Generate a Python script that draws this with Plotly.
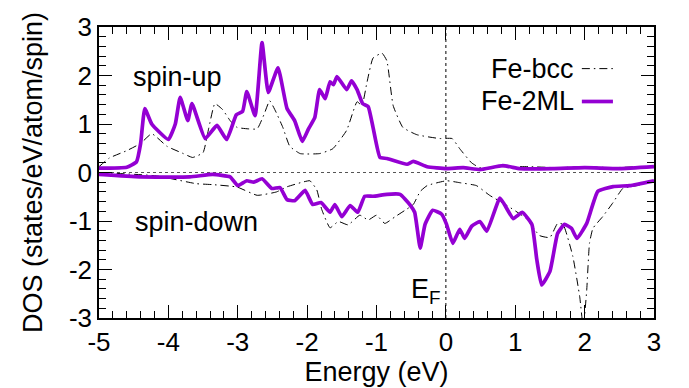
import plotly.graph_objects as go

# ---- data ----
bcc_up_x = [-5.0, -4.85, -4.6, -4.4, -4.24, -4.02, -3.8, -3.65, -3.5, -3.42, -3.33, -3.22, -3.11, -3.01,
            -2.85, -2.72, -2.62, -2.54, -2.45, -2.35, -2.25, -2.1, -1.82, -1.63, -1.43, -1.28, -1.21,
            -1.14, -1.05, -0.92, -0.85, -0.76, -0.62, -0.42, -0.09, 0.09, 0.2, 0.37, 0.49, 0.8, 1.2,
            1.6, 2.0, 2.4, 2.8, 3.0]
bcc_up_y = [0.12, 0.3, 0.45, 0.6, 0.8, 0.54, 0.4, 0.31, 0.41, 0.9, 1.42, 1.3, 1.07, 0.93,
            0.9, 0.9, 1.2, 1.48, 1.25, 0.93, 0.54, 0.39, 0.39, 0.49, 0.87, 1.46, 1.38,
            1.84, 2.36, 2.46, 2.3, 1.38, 0.93, 0.78, 0.7, 0.7, 0.49, 0.2, 0.1, 0.12, 0.12,
            0.1, 0.12, 0.1, 0.12, 0.12]

ml_up_x = [-5.0, -4.6, -4.46, -4.4, -4.34, -4.24, -4.0, -3.9, -3.83, -3.72, -3.66, -3.47, -3.3, -3.16,
           -3.02, -2.93, -2.87, -2.75, -2.65, -2.56, -2.42, -2.29, -2.18, -2.07, -1.98, -1.89, -1.82,
           -1.74, -1.67, -1.62, -1.57, -1.43, -1.36, -1.28, -1.2, -1.12, -1.05, -0.95, -0.85, -0.56,
           -0.47, -0.27, 0.01, 0.25, 0.49, 0.82, 1.07, 1.54, 2.0, 2.5, 3.0]
ml_up_y = [0.09, 0.11, 0.22, 0.6, 1.32, 1.0, 0.68, 1.0, 1.55, 1.07, 1.42, 0.7, 0.97, 0.68,
           1.19, 1.26, 1.67, 1.17, 2.68, 1.65, 2.16, 1.32, 1.07, 0.64, 0.9, 1.13, 1.71,
           1.52, 1.87, 1.81, 1.98, 1.71, 1.89, 1.71, 1.42, 1.36, 0.93, 0.31, 0.29, 0.17,
           0.23, 0.12, 0.08, 0.1, 0.06, 0.14, 0.08, 0.08, 0.1, 0.08, 0.12]

bcc_dn_x = [-5.0, -4.17, -3.6, -3.36, -3.01, -2.72, -2.44, -2.3, -2.07, -1.96, -1.86, -1.79, -1.67,
            -1.55, -1.41, -1.24, -1.12, -1.0, -0.88, -0.73, -0.59, -0.47, -0.37, -0.27, 0.01, 0.2,
            0.44, 0.63, 0.88, 1.16, 1.35, 1.5, 1.61, 1.69, 1.83, 1.93, 1.98, 2.03, 2.07, 2.12, 2.26,
            2.41, 2.55, 2.75, 3.0]
bcc_dn_y = [0.0, -0.07, -0.23, -0.25, -0.3, -0.47, -0.4, -0.3, -0.2, -0.17, -0.36, -0.76, -1.14,
            -1.01, -1.08, -0.88, -0.98, -0.88, -1.05, -0.91, -0.78, -0.66, -0.39, -0.27, -0.17, -0.21,
            -0.27, -0.47, -0.68, -0.95, -1.3, -1.34, -1.05, -1.07, -1.73, -2.57, -3.2, -2.43, -1.46,
            -1.15, -0.91, -0.62, -0.33, -0.27, -0.17]

ml_dn_x = [-5.0, -4.41, -3.69, -3.36, -3.11, -3.0, -2.87, -2.77, -2.65, -2.51, -2.39, -2.29, -2.18,
           -2.03, -1.92, -1.8, -1.67, -1.6, -1.5, -1.38, -1.27, -1.17, -1.05, -0.85, -0.66, -0.52,
           -0.45, -0.37, -0.3, -0.19, -0.06, 0.01, 0.1, 0.2, 0.27, 0.37, 0.49, 0.59, 0.78, 0.97,
           1.1, 1.24, 1.31, 1.38, 1.5, 1.61, 1.71, 1.81, 1.89, 2.03, 2.19, 2.41, 2.65, 3.0]
ml_dn_y = [-0.04, -0.09, -0.09, -0.04, -0.09, -0.27, -0.17, -0.2, -0.13, -0.33, -0.31, -0.56, -0.58,
           -0.37, -0.66, -0.62, -0.82, -0.66, -0.91, -0.68, -0.82, -0.49, -0.49, -0.45, -0.45, -0.66,
           -0.82, -1.56, -1.07, -0.78, -0.86, -1.07, -1.46, -1.17, -1.36, -1.11, -1.01, -1.21, -0.53,
           -0.95, -0.82, -1.07, -1.79, -2.32, -2.04, -1.26, -1.07, -1.15, -1.36, -1.05, -0.39, -0.29,
           -0.27, -0.17]

x_ticks = [-5, -4, -3, -2, -1, 0, 1, 2, 3]
y_ticks = [-3, -2, -1, 0, 1, 2, 3]

PURPLE = "#9400D3"
FONT = "Liberation Sans, Arial, Helvetica, sans-serif"
BCC_DASH = "8px,4px,1.5px,4px"
TXT = 27
TICK = 26

fig = go.Figure()
for xs, ys in [(bcc_up_x, bcc_up_y), (bcc_dn_x, bcc_dn_y)]:
    fig.add_trace(go.Scatter(x=xs, y=ys, mode="lines", name="Fe-bcc", showlegend=False,
                             line=dict(color="black", width=1, dash=BCC_DASH,
                                       shape="spline", smoothing=0.4)))
for xs, ys in [(ml_up_x, ml_up_y), (ml_dn_x, ml_dn_y)]:
    fig.add_trace(go.Scatter(x=xs, y=ys, mode="lines", name="Fe-2ML", showlegend=False,
                             line=dict(color=PURPLE, width=3.7, shape="spline", smoothing=0.4)))

# reference lines (zero DOS and Fermi level)
fig.add_shape(type="line", xref="x", yref="y", x0=-5, x1=3, y0=0, y1=0,
              line=dict(color="#555555", width=1, dash="dot"), layer="below")
fig.add_shape(type="line", xref="x", yref="y", x0=0, x1=0, y0=-3, y1=3,
              line=dict(color="black", width=1, dash="dot"), layer="below")

# custom legend (text left of sample line)
fig.add_annotation(xref="paper", yref="paper", x=0.860, y=0.857, xanchor="right", yanchor="middle",
                   text="Fe-bcc", showarrow=False, font=dict(size=TXT, color="black", family=FONT))
fig.add_annotation(xref="paper", yref="paper", x=0.860, y=0.744, xanchor="right", yanchor="middle",
                   text="Fe-2ML", showarrow=False, font=dict(size=TXT, color="black", family=FONT))
fig.add_shape(type="line", xref="paper", yref="paper", x0=0.870, x1=0.926, y0=0.857, y1=0.857,
              line=dict(color="black", width=1, dash=BCC_DASH))
fig.add_shape(type="line", xref="paper", yref="paper", x0=0.870, x1=0.926, y0=0.744, y1=0.744,
              line=dict(color=PURPLE, width=3.7))

# text labels
fig.add_annotation(x=-3.87, y=1.96, text="spin-up", showarrow=False,
                   font=dict(size=TXT, color="black", family=FONT))
fig.add_annotation(x=-3.6, y=-1.03, text="spin-down", showarrow=False,
                   font=dict(size=TXT, color="black", family=FONT))
fig.add_annotation(x=-0.04, y=-2.45, text="E<sub>F</sub>", showarrow=False, xanchor="right",
                   font=dict(size=TXT, color="black", family=FONT))

axis_common = dict(showgrid=False, zeroline=False, showline=True, linecolor="black", linewidth=1.5,
                   mirror="allticks", ticks="inside", ticklen=13, tickwidth=1.2, tickcolor="black",
                   tickfont=dict(size=TICK, color="black", family=FONT),
                   minor=dict(ticks="inside", ticklen=7, tickwidth=1, tickcolor="black", dtick=0.2))

fig.update_xaxes(range=[-5, 3], tickmode="array", tickvals=x_ticks,
                 ticktext=[str(v) for v in x_ticks],
                 title=dict(text="Energy (eV)", font=dict(size=TXT, color="black", family=FONT), standoff=0),
                 **axis_common)
fig.update_yaxes(range=[-3, 3], tickmode="array", tickvals=y_ticks,
                 ticktext=[str(v) for v in y_ticks],
                 title=dict(text="DOS (states/eV/atom/spin)", font=dict(size=TXT, color="black", family=FONT),
                            standoff=18),
                 **axis_common)

fig.update_layout(width=689, height=388, margin=dict(l=99, r=35, t=15, b=65),
                  plot_bgcolor="white", paper_bgcolor="white", showlegend=False,
                  font=dict(family=FONT, color="black"))

fig.write_html("out.html")
